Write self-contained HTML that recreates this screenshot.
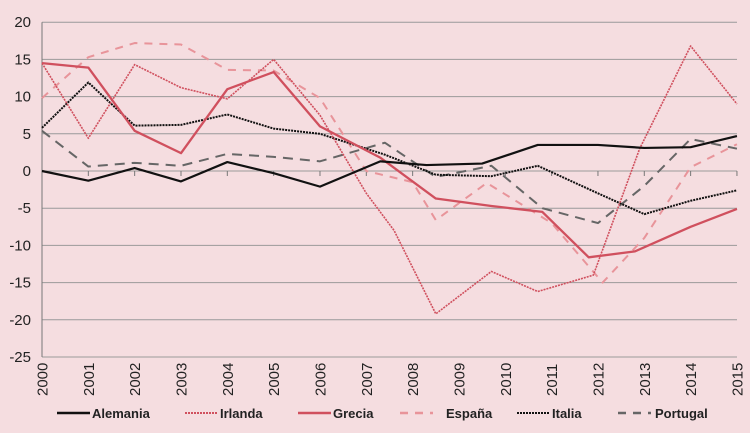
<!DOCTYPE html>
<html><head><meta charset="utf-8"><style>
html,body{margin:0;padding:0;background:#f5dde0;}
svg{display:block;font-family:"Liberation Sans",sans-serif;}
</style></head><body>
<svg id="s" width="750" height="433" viewBox="0 0 750 433" xmlns="http://www.w3.org/2000/svg">
<rect width="750" height="433" fill="#f5dde0"/>
<g id="grid"></g>
<g id="series"></g>
<g id="lbl" font-size="15" fill="#222"></g>
<g font-size="13" font-weight="bold" fill="#222" style="font-stretch:condensed">
<line x1="57" y1="413" x2="90" y2="413" stroke="#111" stroke-width="2.5"/><text x="92" y="418">Alemania</text>
<line x1="185" y1="413" x2="218" y2="413" stroke="#d0505e" stroke-width="2" stroke-dasharray="2,1"/><text x="220" y="418">Irlanda</text>
<line x1="298" y1="413" x2="331" y2="413" stroke="#d0505e" stroke-width="2.5"/><text x="333" y="418">Grecia</text>
<line x1="400" y1="413" x2="433" y2="413" stroke="#e8949a" stroke-width="2.5" stroke-dasharray="8,7"/><text x="446" y="418">España</text>
<line x1="517" y1="413" x2="550" y2="413" stroke="#111" stroke-width="2" stroke-dasharray="2,1"/><text x="552" y="418">Italia</text>
<line x1="618" y1="413" x2="651" y2="413" stroke="#666" stroke-width="2.5" stroke-dasharray="8,7"/><text x="655" y="418">Portugal</text>
</g>
</svg>
<script>
const X=y=>42+(y-2000)*46.33, Y=v=>171-v*7.44;
const ns="http://www.w3.org/2000/svg";
function el(p,t,a,txt){const e=document.createElementNS(ns,t);for(const k in a)e.setAttribute(k,a[k]);if(txt!=null)e.textContent=txt;document.getElementById(p).appendChild(e);return e;}
for(let v=20;v>=-25;v-=5){el("grid","line",{x1:42,x2:737,y1:Y(v),y2:Y(v),stroke:"#9a9a9a","stroke-width":1});
el("lbl","text",{x:31,y:Y(v)+5,"text-anchor":"end"},v);}
el("grid","line",{x1:42,x2:42,y1:Y(20),y2:Y(-25),stroke:"#777","stroke-width":1});
for(let y=2000;y<=2015;y++){el("grid","line",{x1:X(y),x2:X(y),y1:Y(0),y2:Y(0)+5,stroke:"#777"});
el("lbl","text",{transform:`translate(${X(y)+5.5},396) rotate(-90)`,"font-size":"15"},y);}
const S=[
["#e8949a","8,7",2,[[2000,9.8],[2001,15.3],[2002,17.2],[2003,17],[2004,13.6],[2005,13.5],[2006,9.8],[2007,0],[2008,-1.5],[2008.5,-6.6],[2009.6,-1.6],[2011,-7],[2012.1,-15],[2013,-9],[2014,0.5],[2015,3.6]]],
["#666","10,7",2,[[2000,5.4],[2001,0.6],[2002,1.1],[2003,0.7],[2004,2.3],[2005,1.9],[2006,1.3],[2007.4,3.8],[2008.5,-0.8],[2009.7,0.7],[2010.8,-5],[2012,-7],[2013,-2],[2014,4.3],[2015,3]]],
["#111","2,1",2,[[2000,5.8],[2001,11.9],[2002,6.1],[2003,6.2],[2004,7.6],[2005,5.7],[2006,5],[2007.4,2.2],[2008.5,-0.5],[2009.7,-0.7],[2010.7,0.7],[2012,-3],[2013,-5.8],[2014,-4],[2015,-2.6]]],
["#d0505e","2,1",1.6,[[2000,14.5],[2001,4.4],[2002,14.3],[2003,11.2],[2004,9.7],[2005,15],[2006,7.5],[2007,-3],[2007.6,-8],[2008.5,-19.2],[2009.7,-13.5],[2010.7,-16.2],[2011.9,-14],[2012.9,3],[2014,16.8],[2015,9]]],
["#d0505e","",2.3,[[2000,14.5],[2001,13.9],[2002,5.4],[2003,2.4],[2004,11],[2005,13.3],[2006,6],[2007.3,1.8],[2008.5,-3.7],[2009.7,-4.7],[2010.8,-5.5],[2011.8,-11.6],[2012.8,-10.8],[2014,-7.5],[2015,-5.1]]],
["#111","",2.2,[[2000,0],[2001,-1.3],[2002,0.4],[2003,-1.4],[2004,1.2],[2005,-0.3],[2006,-2.1],[2007.3,1.3],[2008.3,0.8],[2009.5,1],[2010.7,3.5],[2012,3.5],[2013,3.1],[2014,3.2],[2015,4.7]]]
];
for(const [c,d,w,p] of S){const a={points:p.map(q=>X(q[0])+","+Y(q[1])).join(" "),fill:"none",stroke:c,"stroke-width":w,"stroke-linejoin":"round"};if(d)a["stroke-dasharray"]=d;el("series","polyline",a);}
</script>
</body></html>
